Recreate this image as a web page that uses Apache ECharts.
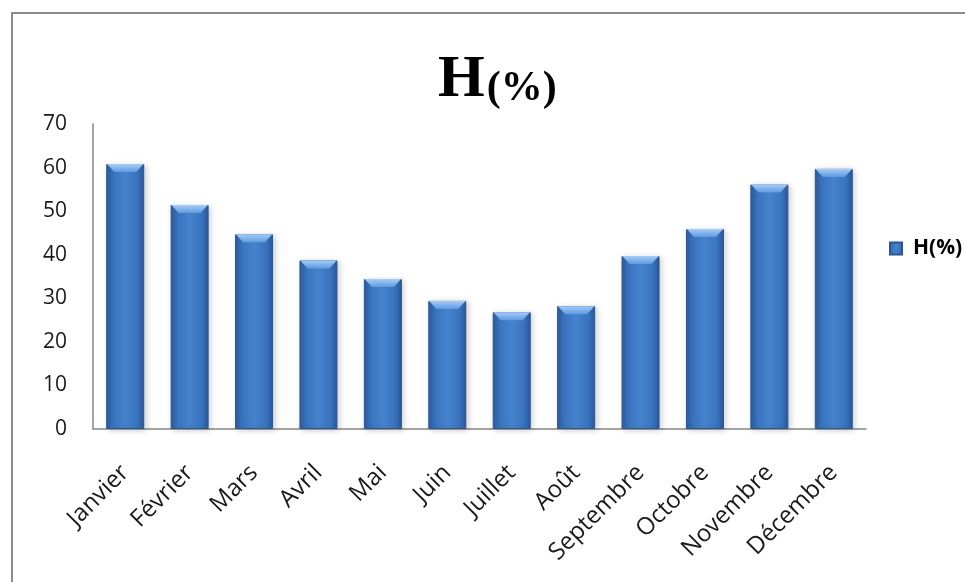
<!DOCTYPE html>
<html>
<head>
<meta charset="utf-8">
<title>H(%)</title>
<script src="https://cdn.jsdelivr.net/npm/echarts@6/dist/echarts.min.js"></script>
<style>
  html, body { margin: 0; padding: 0; background: #ffffff; }
  #chart { width: 965px; height: 582px; }
</style>
</head>
<body>
<div id="chart"></div>
<script>
// Monthly relative humidity, H(%)
const months = ['Janvier', 'Février', 'Mars', 'Avril', 'Mai', 'Juin',
  'Juillet', 'Août', 'Septembre', 'Octobre', 'Novembre', 'Décembre'];
const humidity = [60.8, 51.4, 44.7, 38.7, 34.4, 29.4, 26.8, 28.2, 39.7, 45.9, 56.1, 59.7];
const seriesName = 'H(%)';
const yTicks = [0, 10, 20, 30, 40, 50, 60, 70];

const chart = echarts.init(document.getElementById('chart'), null, { renderer: 'canvas' });

const labelFont = '"Open Sans", "DejaVu Sans", sans-serif';

// Bevelled blue fill: darker at the sides, lighter towards the middle
const barFill = new echarts.graphic.LinearGradient(0, 0, 1, 0, [
  { offset: 0, color: '#2b5c9c' },
  { offset: 0.18, color: '#3a73bd' },
  { offset: 0.5, color: '#4682ce' },
  { offset: 0.82, color: '#3a73bd' },
  { offset: 1, color: '#29589a' }
]);

const capFill = new echarts.graphic.LinearGradient(0, 0, 0, 1, [
  { offset: 0, color: '#a6cdf6' },
  { offset: 1, color: '#5e9ae0' }
]);

chart.setOption({
  backgroundColor: '#ffffff',
  animation: false,
  title: {
    text: '{h|H}{p|(%)}',
    left: 433,
    top: 45,
    textStyle: {
      rich: {
        h: { fontFamily: '"Liberation Serif", "DejaVu Serif", serif', fontWeight: 'bold', fontSize: 60, color: '#000', verticalAlign: 'bottom' },
        p: { fontFamily: '"Liberation Serif", "DejaVu Serif", serif', fontWeight: 'bold', fontSize: 42, color: '#000', verticalAlign: 'bottom', padding: [0, 0, 0, 2] }
      }
    }
  },
  legend: {
    data: [seriesName],
    orient: 'vertical',
    left: 884,
    top: 233,
    icon: 'rect',
    itemWidth: 12,
    itemHeight: 12,
    itemGap: 10,
    textStyle: { fontFamily: labelFont, fontWeight: 'bold', fontSize: 21, color: '#000', padding: [0, 0, 0, 6] }
  },
  graphic: [{
    type: 'rect',
    shape: { x: 12, y: 13, width: 1200, height: 1000 },
    style: { fill: 'none', stroke: '#8c8c8c', lineWidth: 2 },
    silent: true,
    z: 100
  }],
  grid: { left: 93, right: 99, top: 124, bottom: 153, containLabel: false },
  xAxis: {
    type: 'category',
    data: months,
    axisLine: { show: true, lineStyle: { color: '#868686', width: 1.5 } },
    axisTick: { show: false },
    axisLabel: {
      rotate: 45,
      interval: 0,
      margin: 40,
      fontFamily: labelFont,
      fontSize: 24,
      color: '#1a1a1a'
    }
  },
  yAxis: {
    type: 'value',
    min: yTicks[0],
    max: yTicks[yTicks.length - 1],
    interval: yTicks[1] - yTicks[0],
    axisLine: { show: true, lineStyle: { color: '#868686', width: 1.5 } },
    axisTick: { show: false },
    splitLine: { show: false },
    axisLabel: {
      margin: 26,
      fontFamily: labelFont,
      fontSize: 21,
      color: '#1a1a1a'
    }
  },
  series: [
    {
      name: seriesName,
      type: 'bar',
      data: humidity,
      barWidth: '59%',
      barGap: '-100%',
      itemStyle: {
        color: barFill,
        borderColor: '#2a5691',
        borderWidth: 1,
        shadowColor: 'rgba(0,0,0,0.18)',
        shadowBlur: 6,
        shadowOffsetX: 2,
        shadowOffsetY: 1
      }
    },
    {
      // light bevel along the top edge of every bar
      name: 'cap',
      type: 'pictorialBar',
      data: humidity,
      barWidth: '59%',
      barGap: '-100%',
      symbol: 'path://M0,0 L40,0 L32,8 L8,8 Z',
      symbolSize: ['96%', 8],
      symbolPosition: 'end',
      symbolOffset: [0, 0],
      itemStyle: { color: capFill },
      silent: true,
      z: 3
    }
  ]
});
</script>
</body>
</html>
